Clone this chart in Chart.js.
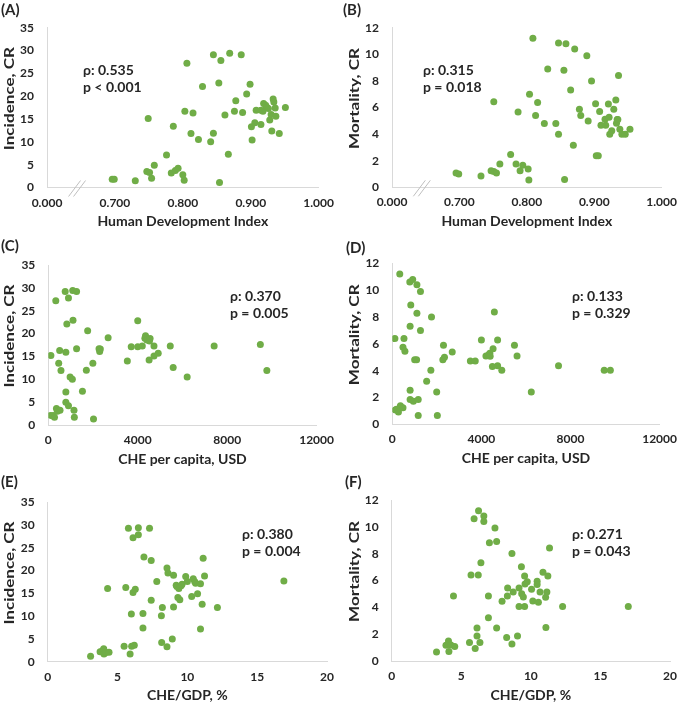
<!DOCTYPE html>
<html>
<head>
<meta charset="utf-8">
<script src="https://cdn.jsdelivr.net/npm/chart.js@4.4.0/dist/chart.umd.min.js"></script>
<style>
  body { margin: 0; background: #fff; width: 685px; height: 706px; position: relative; overflow: hidden; }
  canvas { position: absolute; }
</style>
</head>
<body>
<canvas id="cA" width="342" height="240" style="left:0px;top:0px"></canvas>
<canvas id="cB" width="343" height="240" style="left:342px;top:0px"></canvas>
<canvas id="cC" width="342" height="240" style="left:0px;top:232px"></canvas>
<canvas id="cD" width="343" height="240" style="left:342px;top:232px"></canvas>
<canvas id="cE" width="342" height="241" style="left:0px;top:465px"></canvas>
<canvas id="cF" width="343" height="241" style="left:342px;top:465px"></canvas>
<script>
// (A) HDI vs incidence
const hdiA = [0.696, 0.699, 0.730, 0.747, 0.751, 0.754, 0.758, 0.749, 0.776, 0.786, 0.783, 0.789, 0.793, 0.800,
  0.802, 0.803, 0.806, 0.812, 0.815, 0.823, 0.829, 0.841, 0.845, 0.845, 0.853, 0.854, 0.856, 0.862, 0.869, 0.867,
  0.876, 0.878, 0.886, 0.888, 0.894, 0.899, 0.901, 0.902, 0.906, 0.908, 0.915, 0.915, 0.918, 0.919, 0.922, 0.924,
  0.926, 0.928, 0.930, 0.931, 0.933, 0.934, 0.936, 0.937, 0.942, 0.951];
const incidenceA = [1.8, 1.8, 1.5, 3.5, 3.3, 2.0, 4.9, 15.1, 7.1, 13.4, 3.2, 3.7, 4.2, 2.8,
  1.6, 16.7, 27.2, 11.8, 16.3, 10.5, 22.1, 10.0, 29.1, 11.9, 22.9, 1.1, 27.8, 15.9, 29.4, 7.3,
  16.7, 19.0, 29.1, 16.4, 20.5, 22.6, 13.3, 10.4, 14.2, 16.9, 13.8, 16.9, 16.7, 18.4, 18.0, 17.5,
  17.3, 14.8, 16.0, 12.4, 19.4, 18.7, 17.4, 15.6, 11.8, 17.5];

// (B) HDI vs mortality
const hdiB = [0.695, 0.699, 0.732, 0.747, 0.751, 0.751, 0.755, 0.760, 0.776, 0.784, 0.787, 0.790, 0.794, 0.802,
  0.803, 0.804, 0.809, 0.813, 0.816, 0.826, 0.831, 0.843, 0.847, 0.847, 0.855, 0.856, 0.858, 0.865, 0.869, 0.871,
  0.878, 0.880, 0.889, 0.891, 0.896, 0.902, 0.903, 0.906, 0.908, 0.910, 0.916, 0.917, 0.921, 0.922, 0.923, 0.926,
  0.929, 0.932, 0.933, 0.934, 0.935, 0.936, 0.938, 0.941, 0.946, 0.953];
const mortalityB = [1.08, 1.0, 0.85, 1.25, 6.44, 1.18, 1.08, 1.75, 2.46, 1.75, 5.66, 1.25, 1.65, 1.38,
  0.55, 6.99, 11.2, 5.39, 6.37, 4.79, 8.9, 4.79, 10.85, 3.98, 8.8, 0.58, 10.8, 7.32, 3.16, 10.4,
  5.86, 5.39, 9.9, 4.99, 7.99, 6.29, 2.38, 2.38, 5.69, 4.66, 5.11, 4.66, 6.27, 5.26, 3.98, 4.26,
  5.86, 6.57, 4.81, 5.09, 5.09, 8.4, 4.36, 3.98, 3.98, 4.36];

// (C) CHE per capita vs incidence
const cheCapC = [116, 102, 218, 276, 335, 364, 407, 465, 509, 524, 567, 756, 785, 785, 785, 829, 902, 902, 975,
  1076, 1091, 1105, 1149, 1164, 1265, 1265, 1527, 1702, 1760, 1993, 2022, 2269, 2298, 2327, 2676, 3535, 3709,
  4000, 4000, 4204, 4320, 4349, 4407, 4524, 4553, 4509, 4727, 4727, 4916, 5455, 5585, 6211, 7418, 9484, 9775];
const incidenceC = [15.2, 2.1, 2.1, 1.7, 27.2, 3.6, 3.0, 13.5, 16.3, 3.2, 11.9, 29.2, 15.9, 7.2, 5.0, 22.1, 27.8, 4.2, 10.5,
  10.0, 29.4, 22.9, 3.2, 1.7, 29.2, 16.7, 7.4, 12.0, 20.6, 13.5, 1.3, 16.7, 16.1, 16.6, 19.1, 14.0, 17.1,
  17.1, 22.8, 17.3, 19.0, 19.5, 18.6, 18.4, 18.9, 14.2, 15.1, 17.3, 15.7, 17.3, 12.6, 10.5, 17.3, 17.6, 11.9];

// (D) CHE per capita vs mortality
const cheCapD = [116, 131, 189, 276, 335, 364, 480, 480, 524, 567, 785, 800, 800, 800, 829, 916, 945, 1004, 1091,
  1105, 1105, 1164, 1164, 1265, 1265, 1542, 1731, 1760, 1993, 2022, 2269, 2298, 2342, 2691, 3505, 3724, 4000,
  4204, 4320, 4378, 4393, 4494, 4524, 4582, 4727, 4727, 4916, 5484, 5600, 6240, 7462, 9513, 9789];
const mortalityD = [6.39, 1.07, 1.12, 0.92, 11.2, 1.39, 1.24, 5.74, 6.39, 5.44, 10.6, 7.3, 2.53, 1.84, 8.9, 10.8, 1.72, 4.82, 4.82,
  10.4, 8.27, 1.84, 0.65, 9.9, 7.0, 3.2, 4.02, 8.0, 2.41, 0.65, 4.82, 5.89, 5.0, 5.39, 4.72, 4.72, 6.29,
  5.09, 5.17, 5.3, 5.07, 4.3, 5.64, 8.37, 4.37, 6.29, 4.02, 5.89, 5.09, 2.41, 4.37, 4.02, 4.02];

// (E) CHE/GDP vs incidence
const cheGdpE = [3.07, 3.75, 3.92, 4.01, 4.03, 4.17, 4.39, 4.29, 5.47, 5.59, 5.78, 5.90, 5.99, 6.01, 6.11, 6.11,
  6.20, 6.27, 6.49, 6.49, 6.82, 6.82, 6.89, 7.29, 7.41, 7.41, 7.81, 8.14, 8.16, 8.21, 8.54, 8.54, 8.61, 8.92,
  9.01, 9.01, 9.20, 9.25, 9.32, 9.39, 9.46, 9.55, 9.62, 9.88, 10.0, 10.31, 10.42, 10.52, 10.59, 10.73, 10.94,
  10.94, 11.06, 11.13, 11.23, 12.15, 16.91];
const incidenceE = [1.2, 2.2, 2.4, 2.85, 1.7, 2.0, 2.05, 16.1, 3.4, 16.3, 29.3, 1.7, 10.5, 3.4, 27.2, 15.2,
  3.6, 15.9, 29.4, 27.9, 10.6, 7.4, 23.0, 29.3, 22.2, 13.5, 17.6, 10.1, 4.2, 11.9, 20.6, 3.3, 19.5, 5.0,
  19.0, 12.0, 16.8, 16.5, 14.1, 16.1, 13.6, 16.7, 17.0, 18.7, 17.6, 14.3, 18.2, 17.6, 17.2, 14.9, 17.1,
  7.2, 12.6, 22.7, 18.8, 11.9, 17.7];

// (F) CHE/GDP vs mortality
const cheGdpF = [3.22, 3.90, 4.08, 4.11, 4.25, 4.44, 4.53, 5.59, 5.70, 5.92, 6.00, 6.13, 6.13, 6.22, 6.24, 6.34,
  6.41, 6.62, 6.62, 6.95, 6.95, 7.02, 7.42, 7.54, 7.54, 7.93, 8.26, 8.31, 8.33, 8.64, 8.64, 8.73, 9.04, 9.15,
  9.15, 9.32, 9.34, 9.46, 9.55, 9.55, 9.58, 9.74, 10.05, 10.14, 10.45, 10.45, 10.54, 10.66, 10.87, 11.06, 11.08,
  11.15, 11.22, 11.34, 12.28, 17.0];
const mortalityF = [0.67, 1.17, 1.49, 0.7, 1.19, 4.84, 1.09, 1.37, 6.41, 10.6, 0.94, 2.46, 1.86, 6.41, 11.2, 1.37,
  7.33, 10.8, 10.4, 4.84, 3.23, 8.82, 9.91, 8.9, 2.46, 4.45, 1.76, 4.84, 5.44, 8.02, 1.27, 5.14, 1.86, 5.44,
  4.07, 7.03, 5.01, 4.77, 6.34, 4.07, 5.74, 5.91, 5.34, 4.47, 5.94, 5.71, 4.37, 5.14, 6.61, 4.75, 2.49,
  5.14, 6.34, 8.42, 4.07, 4.07];

const hdiTickLabels = ["0.000", "0.700", "0.800", "0.900", "1.000"];
const statsA = ["ρ: 0.535", "p < 0.001"];
const statsB = ["ρ: 0.315", "p = 0.018"];
const statsC = ["ρ: 0.370", "p = 0.005"];
const statsD = ["ρ: 0.133", "p = 0.329"];
const statsE = ["ρ: 0.380", "p = 0.004"];
const statsF = ["ρ: 0.271", "p = 0.043"];

const GREEN = "#70AD47";
const TEXT = "#262626";
const AXIS = "#D9D9D9";
const FONT = "Lato, 'Open Sans', sans-serif";

// letters, rotated y titles, rho/p notes and the axis break
const panelText = {
  id: "panelText",
  afterDraw(chart, args, o) {
    const ctx = chart.ctx;
    const a = chart.chartArea;
    ctx.save();
    ctx.fillStyle = TEXT;
    ctx.textBaseline = "middle";
    ctx.textAlign = "left";
    ctx.font = "bold 15px " + FONT;
    ctx.fillText(o.letter, o.letterX, o.letterY);

    ctx.save();
    ctx.translate(o.titleX, (a.top + a.bottom) / 2 - 9);
    ctx.rotate(-Math.PI / 2);
    ctx.scale(1.22, 1);
    ctx.textAlign = "center";
    ctx.font = "bold 14px " + FONT;
    ctx.fillText(o.yTitle, 0, 0);
    ctx.restore();

    ctx.font = "bold 14px " + FONT;
    o.stats.forEach((s, i) => ctx.fillText(s, o.statX, o.statY + i * 17));

    if (o.axisBreak) {
      const cx = chart.scales.x.getPixelForValue(0.645);
      ctx.strokeStyle = "#BFBFBF";
      ctx.lineWidth = 1;
      [-3, 2].forEach((dx) => {
        ctx.beginPath();
        ctx.moveTo(cx + dx - 6, a.bottom + 9);
        ctx.lineTo(cx + dx + 6, a.bottom - 7);
        ctx.stroke();
      });
    }
    ctx.restore();
  },
};

function makePanel(id, xs, ys, cfg) {
  const canvas = document.getElementById(id);
  const W = canvas.width, H = canvas.height;
  const area = cfg.area;
  const points = xs.map((x, i) => ({ x: x, y: ys[i] }));
  return new Chart(canvas, {
    type: "scatter",
    data: {
      datasets: [{
        data: points,
        backgroundColor: GREEN,
        borderColor: GREEN,
        borderWidth: 0,
        pointRadius: 3.5,
      }],
    },
    plugins: [panelText],
    options: {
      responsive: false,
      animation: false,
      layout: { padding: { left: 0, top: area.t, right: W - area.r, bottom: 0 } },
      plugins: {
        legend: { display: false },
        tooltip: { enabled: false },
        panelText: cfg.text,
      },
      scales: {
        x: {
          type: "linear",
          min: cfg.xMin, max: cfg.xMax,
          afterFit: (s) => { s.height = H - area.b; },
          grid: { display: false, drawTicks: false },
          border: { display: true, color: AXIS, width: 1 },
          ticks: {
            stepSize: cfg.xStep,
            padding: 8,
            color: TEXT,
            font: { family: FONT, size: 12, weight: "bold" },
            maxRotation: 0,
            autoSkip: false,
            callback: cfg.xLabel,
          },
          title: {
            display: true,
            text: cfg.xTitle,
            color: TEXT,
            font: { family: FONT, size: 14, weight: "bold" },
            padding: { top: 0, bottom: Math.max(0, H - area.b - 34 - 8.4) },
          },
        },
        y: {
          type: "linear",
          min: 0, max: cfg.yMax,
          afterFit: (s) => { s.width = area.l; },
          grid: { display: false, drawTicks: false },
          border: { display: true, color: AXIS, width: 1 },
          ticks: {
            stepSize: cfg.yStep,
            padding: 13,
            color: TEXT,
            font: { family: FONT, size: 12, weight: "bold" },
          },
        },
      },
    },
  });
}

const hdiLabel = (v, i) => hdiTickLabels[i];
const plainLabel = (v) => String(v);

makePanel("cA", hdiA, incidenceA, {
  area: { l: 47, r: 323, t: 27.7, b: 187.5 },
  xMin: 0.6, xMax: 1.0, xStep: 0.1, xLabel: hdiLabel, xTitle: "Human Development Index",
  yMax: 35, yStep: 5,
  text: { letter: "(A)", letterX: 1, letterY: 10, yTitle: "Incidence, CR", titleX: 9,
    stats: statsA, statX: 83, statY: 70, axisBreak: true },
});
makePanel("cB", hdiB, mortalityB, {
  area: { l: 50, r: 326, t: 27.7, b: 187.3 },
  xMin: 0.6, xMax: 1.0, xStep: 0.1, xLabel: hdiLabel, xTitle: "Human Development Index",
  yMax: 12, yStep: 2,
  text: { letter: "(B)", letterX: 1, letterY: 10, yTitle: "Mortality, CR", titleX: 12,
    stats: statsB, statX: 81, statY: 70, axisBreak: true },
});
makePanel("cC", cheCapC, incidenceC, {
  area: { l: 48.3, r: 323.3, t: 33, b: 193 },
  xMin: 0, xMax: 12000, xStep: 4000, xLabel: plainLabel, xTitle: "CHE per capita, USD",
  yMax: 35, yStep: 5,
  text: { letter: "(C)", letterX: 1, letterY: 14, yTitle: "Incidence, CR", titleX: 9,
    stats: statsC, statX: 230, statY: 64, axisBreak: false },
});
makePanel("cD", cheCapD, mortalityD, {
  area: { l: 50.3, r: 325.3, t: 31.3, b: 192.3 },
  xMin: 0, xMax: 12000, xStep: 4000, xLabel: plainLabel, xTitle: "CHE per capita, USD",
  yMax: 12, yStep: 2,
  text: { letter: "(D)", letterX: 4, letterY: 16, yTitle: "Mortality, CR", titleX: 12,
    stats: statsD, statX: 230, statY: 64, axisBreak: false },
});
makePanel("cE", cheGdpE, incidenceE, {
  area: { l: 47.7, r: 331.7, t: 37.3, b: 196.7 },
  xMin: 0, xMax: 20, xStep: 5, xLabel: plainLabel, xTitle: "CHE/GDP, %",
  yMax: 35, yStep: 5,
  text: { letter: "(E)", letterX: 1, letterY: 17, yTitle: "Incidence, CR", titleX: 9,
    stats: statsE, statX: 242, statY: 69, axisBreak: false },
});
makePanel("cF", cheGdpF, mortalityF, {
  area: { l: 49.7, r: 332, t: 35, b: 196 },
  xMin: 0, xMax: 20, xStep: 5, xLabel: plainLabel, xTitle: "CHE/GDP, %",
  yMax: 12, yStep: 2,
  text: { letter: "(F)", letterX: 3, letterY: 17, yTitle: "Mortality, CR", titleX: 12,
    stats: statsF, statX: 230, statY: 69, axisBreak: false },
});
</script>
</body>
</html>
